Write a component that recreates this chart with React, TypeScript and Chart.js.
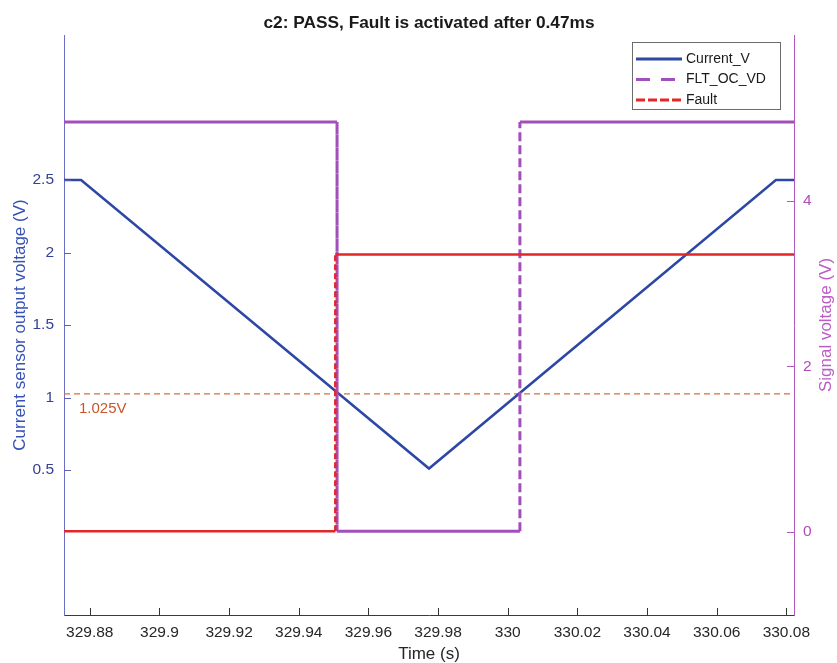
import React, { useEffect, useRef } from 'react';
import { Chart, registerables } from 'chart.js';

Chart.register(...registerables);

const TITLE = 'c2: PASS, Fault is activated after 0.47ms';
const X_TITLE = 'Time (s)';
const YL_TITLE = 'Current sensor output voltage (V)';
const YR_TITLE = 'Signal voltage (V)';
const THRESHOLD_LABEL = '1.025V';

const X_MIN = 329.8726;
const X_MAX = 330.0822;
const YL_MIN = -0.5;
const YL_MAX = 3.5;
const YR_MIN = -1;
const YR_MAX = 6;

const xTickLabels = ['329.88', '329.9', '329.92', '329.94', '329.96', '329.98', '330', '330.02', '330.04', '330.06', '330.08'];
const ylTickLabels = ['0.5', '1', '1.5', '2', '2.5'];
const yrTickLabels = ['0', '2', '4'];

const currentTime = [329.8726, 329.8775, 329.9774, 330.077, 330.0822];
const currentV = [2.5, 2.5, 0.51, 2.5, 2.5];

const fltTime = [329.8726, 329.951, 329.951, 330.0035, 330.0035, 330.0822];
const fltV = [4.95, 4.95, 0.01, 0.01, 4.95, 4.95];

const faultTime = [329.8726, 329.9505, 329.9505, 330.0822];
const faultV = [0.01, 0.01, 3.35, 3.35];

const thresholdTime = [329.8726, 330.0822];
const thresholdV = [1.025, 1.025];

const FONT = '"Liberation Sans", Arial, Helvetica, sans-serif';

const zip = (xs: number[], ys: number[]) => xs.map((x, i) => ({ x, y: ys[i] }));

const BLUE = '#2D47A5';
const PURPLE = '#A24FBC';
const RED = '#E32626';

const vertDash = (dash: number[]) => (c: any) =>
  c.p0.parsed.x === c.p1.parsed.x ? dash : undefined;

const legendRows = [
  { color: BLUE, dash: [] as number[] },
  { color: PURPLE, dash: [14, 11] },
  { color: RED, dash: [9, 3] },
];

const overlay = {
  id: 'overlay',
  afterDraw(chart: any) {
    const { ctx, chartArea: ca, scales } = chart;
    const x = scales.x;
    const yl = scales.yL;
    const yr = scales.yR;
    ctx.save();

    // inward tick marks
    const tickLen = 7;
    ctx.lineWidth = 1;
    ctx.strokeStyle = '#333333';
    ctx.beginPath();
    x.ticks.forEach((t: any) => {
      const px = Math.round(x.getPixelForValue(t.value)) + 0.5;
      ctx.moveTo(px, ca.bottom);
      ctx.lineTo(px, ca.bottom - tickLen);
    });
    ctx.stroke();
    ctx.strokeStyle = '#5B5FB8';
    ctx.beginPath();
    yl.ticks.forEach((t: any) => {
      const py = Math.round(yl.getPixelForValue(t.value)) + 0.5;
      ctx.moveTo(ca.left, py);
      ctx.lineTo(ca.left + tickLen, py);
    });
    ctx.stroke();
    ctx.strokeStyle = '#B057C0';
    ctx.beginPath();
    yr.ticks.forEach((t: any) => {
      const py = Math.round(yr.getPixelForValue(t.value)) + 0.5;
      ctx.moveTo(ca.right, py);
      ctx.lineTo(ca.right - tickLen, py);
    });
    ctx.stroke();

    // title
    ctx.fillStyle = '#1a1a1a';
    ctx.font = `bold 17.3px ${FONT}`;
    ctx.textAlign = 'center';
    ctx.textBaseline = 'middle';
    ctx.fillText(TITLE, (ca.left + ca.right) / 2, 23);

    // right axis title (reads bottom to top)
    ctx.save();
    ctx.translate(826, (ca.top + ca.bottom) / 2);
    ctx.rotate(-Math.PI / 2);
    ctx.fillStyle = '#BC5DC4';
    ctx.font = `17px ${FONT}`;
    ctx.fillText(YR_TITLE, 0, 0);
    ctx.restore();

    // threshold label
    ctx.fillStyle = '#C9552B';
    ctx.font = `15px ${FONT}`;
    ctx.textAlign = 'left';
    ctx.fillText(THRESHOLD_LABEL, ca.left + 15, yl.getPixelForValue(thresholdV[0]) + 15);

    // legend
    const lx = 632, ly = 42, lw = 148, lh = 67;
    ctx.fillStyle = '#ffffff';
    ctx.fillRect(lx, ly, lw, lh);
    ctx.strokeStyle = '#6b6b6b';
    ctx.lineWidth = 1;
    ctx.setLineDash([]);
    ctx.strokeRect(lx + 0.5, ly + 0.5, lw, lh);
    ctx.font = `14px ${FONT}`;
    ctx.textBaseline = 'middle';
    const labels = chart.data.datasets.slice(0, 3).map((d: any) => d.label);
    legendRows.forEach((r, i) => {
      const ry = 59 + i * 20.5;
      ctx.strokeStyle = r.color;
      ctx.lineWidth = 3;
      ctx.setLineDash(r.dash);
      ctx.beginPath();
      ctx.moveTo(636, ry);
      ctx.lineTo(682, ry);
      ctx.stroke();
      ctx.setLineDash([]);
      ctx.fillStyle = '#1a1a1a';
      ctx.fillText(labels[i], 686, ry);
    });

    ctx.restore();
  },
};

export default function App() {
  const ref = useRef<HTMLCanvasElement>(null);
  useEffect(() => {
    document.body.style.margin = '0';
    Chart.defaults.font.family = FONT;
    const chart = new Chart(ref.current as HTMLCanvasElement, {
      type: 'line',
      data: {
        datasets: [
          {
            label: 'Current_V',
            data: zip(currentTime, currentV),
            yAxisID: 'yL',
            borderColor: BLUE,
            borderWidth: 2.5,
            pointRadius: 0,
            order: 3,
          },
          {
            label: 'FLT_OC_VD',
            data: zip(fltTime, fltV),
            yAxisID: 'yR',
            borderColor: PURPLE,
            borderWidth: 3,
            pointRadius: 0,
            segment: { borderDash: vertDash([9, 4]) },
            order: 2,
          },
          {
            label: 'Fault',
            data: zip(faultTime, faultV),
            yAxisID: 'yR',
            borderColor: RED,
            borderWidth: 2.5,
            pointRadius: 0,
            segment: { borderDash: vertDash([6, 3]) },
            order: 1,
          },
          {
            label: 'threshold',
            data: zip(thresholdTime, thresholdV),
            yAxisID: 'yL',
            borderColor: '#D8703F',
            borderWidth: 1.2,
            borderDash: [6, 4],
            pointRadius: 0,
            order: 4,
          },
        ],
      },
      options: {
        responsive: false,
        animation: false,
        devicePixelRatio: 1,
        layout: { padding: { top: 35, left: 0, right: 0, bottom: 0 } },
        plugins: {
          legend: { display: false },
          tooltip: { enabled: false },
          title: { display: false },
        },
        scales: {
          x: {
            type: 'linear',
            min: X_MIN,
            max: X_MAX,
            afterBuildTicks: (s: any) => {
              s.ticks = xTickLabels.map((l) => ({ value: parseFloat(l) }));
            },
            afterFit: (s: any) => {
              s.height = 48;
            },
            ticks: {
              callback: (_v: any, i: number) => xTickLabels[i],
              font: { size: 15.5 },
              color: '#262626',
              padding: 8,
              maxRotation: 0,
              autoSkip: false,
            },
            grid: { display: false, drawTicks: false },
            border: { display: true, color: '#3a3a3a', width: 1 },
            title: {
              display: true,
              text: X_TITLE,
              font: { size: 17, lineHeight: 1 },
              color: '#262626',
              padding: { top: 0, bottom: 0.5 },
            },
          },
          yL: {
            type: 'linear',
            position: 'left',
            min: YL_MIN,
            max: YL_MAX,
            afterBuildTicks: (s: any) => {
              s.ticks = ylTickLabels.map((l) => ({ value: parseFloat(l) }));
            },
            afterFit: (s: any) => {
              s.width = 64;
            },
            ticks: {
              callback: (_v: any, i: number) => ylTickLabels[i],
              font: { size: 15.5 },
              color: '#34409A',
              padding: 10,
            },
            grid: { display: false, drawTicks: false },
            border: { display: true, color: '#6A6EC4', width: 1 },
            title: {
              display: true,
              text: YL_TITLE,
              font: { size: 17, lineHeight: 1 },
              color: '#3552B3',
              padding: { top: 12, bottom: 0 },
            },
          },
          yR: {
            type: 'linear',
            position: 'right',
            min: YR_MIN,
            max: YR_MAX,
            afterBuildTicks: (s: any) => {
              s.ticks = yrTickLabels.map((l) => ({ value: parseFloat(l) }));
            },
            afterFit: (s: any) => {
              s.width = 43;
            },
            ticks: {
              callback: (_v: any, i: number) => yrTickLabels[i],
              font: { size: 15.5 },
              color: '#B04DB8',
              padding: 9,
            },
            grid: { display: false, drawTicks: false },
            border: { display: true, color: '#B057C0', width: 1 },
            title: { display: false },
          },
        },
      },
      plugins: [overlay],
    } as any);
    return () => chart.destroy();
  }, []);
  return (
    <div style={{ width: 837, height: 663 }}>
      <canvas ref={ref} width={837} height={663} style={{ display: 'block' }} />
    </div>
  );
}
